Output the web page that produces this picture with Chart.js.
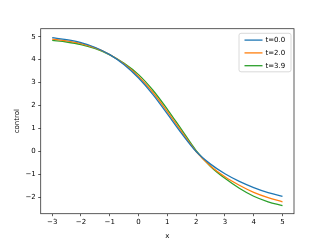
<!DOCTYPE html>
<html>
<head>
<meta charset="utf-8">
<script src="https://cdn.jsdelivr.net/npm/chart.js@4.4.1/dist/chart.umd.min.js"></script>
<style>
  html, body { margin: 0; padding: 0; background: #fff; }
  #wrap { width: 327px; height: 245px; position: relative; }
</style>
</head>
<body>
<div id="wrap"><canvas id="chart"></canvas></div>
<script>
// x samples and the three control profiles
const xs = [-3, -2.5, -2, -1.5, -1, -0.5, 0, 0.5, 1, 1.5, 2, 2.5, 3, 3.5, 4, 4.5, 5];
const control_t0 = [4.96, 4.87, 4.74, 4.53, 4.22, 3.78, 3.2, 2.48, 1.64, 0.78, 0.0, -0.55, -0.97, -1.3, -1.57, -1.79, -1.95];
const control_t2 = [4.9, 4.82, 4.7, 4.51, 4.22, 3.81, 3.27, 2.57, 1.74, 0.86, 0.0, -0.63, -1.1, -1.47, -1.78, -2.01, -2.19];
const control_t39 = [4.84, 4.77, 4.66, 4.48, 4.21, 3.84, 3.35, 2.67, 1.84, 0.94, 0.04, -0.65, -1.17, -1.6, -1.95, -2.19, -2.36];
const seriesLabels = ["t=0.0", "t=2.0", "t=3.9"];
const seriesColors = ["#1f77b4", "#ff7f0e", "#2ca02c"];
const xTicks = [-3, -2, -1, 0, 1, 2, 3, 4, 5];
const yTicks = [-2, -1, 0, 1, 2, 3, 4, 5];

const FONT = "'DejaVu Sans', sans-serif";
const minus = v => String(v).replace('-', '\u2212');

function toPoints(ys) {
    return xs.map((x, i) => ({ x: x, y: ys[i] }));
}

// matplotlib style box around the axes + legend frame
const frameAndLegend = {
    id: 'frameAndLegend',
    afterDraw(chart) {
        const ctx = chart.ctx;
        const a = chart.chartArea;
        ctx.save();
        ctx.strokeStyle = '#333';
        ctx.lineWidth = 0.8;
        ctx.strokeRect(a.left, a.top, a.right - a.left, a.bottom - a.top);

        // legend
        const w = 52, h = 38.5;
        const lx = a.right - 3 - w, ly = a.top + 4.6;
        ctx.beginPath();
        ctx.roundRect(lx, ly, w, h, 2);
        ctx.fillStyle = 'rgba(255,255,255,0.8)';
        ctx.fill();
        ctx.strokeStyle = '#d0d0d0';
        ctx.lineWidth = 0.8;
        ctx.stroke();
        ctx.font = '7px ' + FONT;
        ctx.textBaseline = 'middle';
        ctx.fillStyle = '#000';
        chart.data.datasets.forEach((ds, i) => {
            const y = ly + 6.8 + i * 12.8;
            ctx.beginPath();
            ctx.moveTo(lx + 5.5, y);
            ctx.lineTo(lx + 23.5, y);
            ctx.strokeStyle = ds.borderColor;
            ctx.lineWidth = 1.3;
            ctx.stroke();
            ctx.fillText(ds.label, lx + 26.5, y + 0.5);
        });
        ctx.restore();
    }
};

new Chart(document.getElementById('chart'), {
    type: 'line',
    data: {
        datasets: [control_t0, control_t2, control_t39].map((ys, i) => ({
            label: seriesLabels[i],
            data: toPoints(ys),
            borderColor: seriesColors[i],
            backgroundColor: seriesColors[i],
            borderWidth: 1.3,
            pointRadius: 0,
            cubicInterpolationMode: 'monotone',
            fill: false,
        })),
    },
    options: {
        responsive: true,
        maintainAspectRatio: false,
        animation: false,
        layout: { padding: { left: 0, right: 33, top: 28.7, bottom: 0 } },
        plugins: {
            legend: { display: false },
            tooltip: { enabled: false },
        },
        scales: {
            x: {
                type: 'linear',
                min: -3.4,
                max: 5.4,
                afterBuildTicks: s => { s.ticks = xTicks.map(v => ({ value: v })); },
                afterFit: s => { s.height = 31.3; },
                grid: { drawOnChartArea: false, drawTicks: true, tickLength: 2.5, tickColor: '#333', lineWidth: 0.8 },
                border: { display: false },
                ticks: {
                    color: '#000',
                    padding: 2,
                    maxRotation: 0,
                    font: { family: FONT, size: 7 },
                    callback: v => minus(v),
                },
                title: {
                    display: true,
                    text: 'x',
                    color: '#000',
                    font: { family: FONT, size: 7 },
                    padding: { top: 0, bottom: 4.8 },
                },
            },
            y: {
                type: 'linear',
                min: -2.71,
                max: 5.35,
                afterBuildTicks: s => { s.ticks = yTicks.map(v => ({ value: v })); },
                afterFit: s => { s.width = 40.7; },
                grid: { drawOnChartArea: false, drawTicks: true, tickLength: 2.5, tickColor: '#333', lineWidth: 0.8 },
                border: { display: false },
                ticks: {
                    color: '#000',
                    padding: 2.5,
                    font: { family: FONT, size: 7 },
                    callback: v => minus(v),
                },
                title: {
                    display: true,
                    text: 'control',
                    color: '#000',
                    font: { family: FONT, size: 7 },
                    padding: { top: 13.1, bottom: 0 },
                },
            },
        },
    },
    plugins: [frameAndLegend],
});
</script>
</body>
</html>
